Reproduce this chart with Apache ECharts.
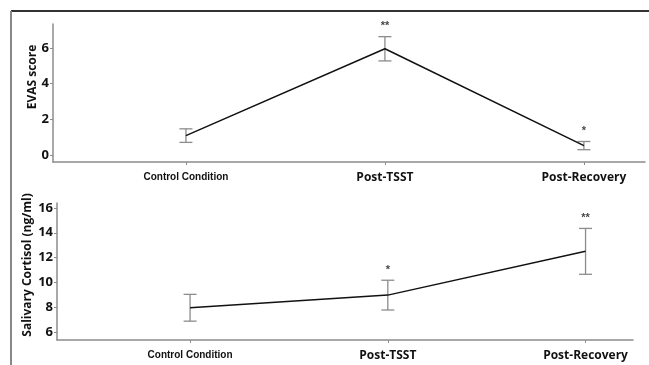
<!DOCTYPE html>
<html>
<head>
<meta charset="utf-8">
<script src="https://cdn.jsdelivr.net/npm/echarts@6/dist/echarts.min.js"></script>
<style>
html, body { margin: 0; padding: 0; background: #fff; }
#chart { width: 649px; height: 365px; }
</style>
</head>
<body>
<div id="chart"></div>
<script>
const conditions = ['Control Condition', 'Post-TSST', 'Post-Recovery']
const evasMean = [1.08, 5.95, 0.52]
const evasErr = [0.38, 0.68, 0.23]
const evasSig = ['', '**', '*']
const cortisolMean = [7.95, 8.97, 12.5]
const cortisolErr = [1.08, 1.2, 1.85]
const cortisolSig = ['', '*', '**']
const evasTicks = [0, 2, 4, 6]
const cortisolTicks = [6, 8, 10, 12, 14, 16]
const catTicks = [0, 1, 2]

const axisGrey = '#8c8c8c'
const font = '"Liberation Sans", Arial, sans-serif'
const fontB = '"Open Sans", "Liberation Sans", sans-serif'

function xAxis(idx, min, max) {
  return {
    type: 'value',
    gridIndex: idx,
    min,
    max,
    axisLine: { show: true, onZero: false, lineStyle: { color: axisGrey, width: 1.5 } },
    axisTick: { show: true, length: 3, customValues: catTicks, lineStyle: { color: axisGrey } },
    splitLine: { show: false },
    axisLabel: {
      customValues: catTicks,
      margin: 10,
      formatter: (v) => (v === 0 ? '{a|' : '{b|') + conditions[v] + '}',
      rich: {
        a: { fontFamily: font, fontWeight: 'bold', fontSize: 10, color: '#111' },
        b: { fontFamily: fontB, fontWeight: 'bold', fontSize: 12, color: '#111' }
      }
    }
  }
}

function yAxis(idx, min, max, ticks) {
  return {
    type: 'value',
    gridIndex: idx,
    min,
    max,
    axisLine: { show: true, onZero: false, lineStyle: { color: axisGrey, width: 1.5 } },
    axisTick: { show: true, length: 3, customValues: ticks, lineStyle: { color: axisGrey } },
    splitLine: { show: false },
    axisLabel: {
      customValues: ticks,
      margin: 4,
      fontFamily: fontB,
      fontWeight: 'bold',
      fontSize: 13,
      color: '#111'
    }
  }
}

function errorSeries(idx, means, errs) {
  return {
    type: 'custom',
    xAxisIndex: idx,
    yAxisIndex: idx,
    z: 1,
    encode: { x: 0, y: [1, 2] },
    data: means.map((v, i) => [i, v - errs[i], v + errs[i]]),
    renderItem: (params, api) => {
      const x = api.value(0)
      const lo = api.coord([x, api.value(1)])
      const hi = api.coord([x, api.value(2)])
      const w = 6.5
      const style = { stroke: axisGrey, lineWidth: 1.3 }
      return {
        type: 'group',
        children: [
          { type: 'line', shape: { x1: lo[0], y1: lo[1], x2: hi[0], y2: hi[1] }, style },
          { type: 'line', shape: { x1: hi[0] - w, y1: hi[1], x2: hi[0] + w, y2: hi[1] }, style },
          { type: 'line', shape: { x1: lo[0] - w, y1: lo[1], x2: lo[0] + w, y2: lo[1] }, style }
        ]
      }
    }
  }
}

function lineSeries(idx, means) {
  return {
    type: 'line',
    xAxisIndex: idx,
    yAxisIndex: idx,
    z: 3,
    symbol: 'none',
    lineStyle: { color: '#111', width: 1.5 },
    data: means.map((v, i) => [i, v])
  }
}

function sigSeries(idx, means, errs, sig) {
  return {
    type: 'scatter',
    xAxisIndex: idx,
    yAxisIndex: idx,
    symbolSize: 0,
    silent: true,
    data: means.map((v, i) => [i, v + errs[i], sig[i]]),
    label: {
      show: true,
      position: 'top',
      distance: 5,
      formatter: (p) => p.value[2],
      fontFamily: font,
      fontWeight: 'bold',
      fontSize: 11,
      color: '#111'
    }
  }
}

const chart = echarts.init(document.getElementById('chart'))
chart.setOption({
  animation: false,
  backgroundColor: '#fff',
  grid: [
    { left: 53, right: 4, top: 24, height: 138 },
    { left: 57, right: 16, top: 203, height: 137 }
  ],
  xAxis: [xAxis(0, -0.668, 2.307), xAxis(1, -0.673, 2.24)],
  yAxis: [yAxis(0, -0.4, 7.34, evasTicks), yAxis(1, 5.35, 16.4, cortisolTicks)],
  graphic: [
    { type: 'line', shape: { x1: 11, y1: 11, x2: 649, y2: 11 }, style: { stroke: '#333', lineWidth: 2 } },
    { type: 'line', shape: { x1: 11, y1: 11, x2: 11, y2: 365 }, style: { stroke: '#888', lineWidth: 2 } },
    {
      type: 'text', x: 33, y: 77, rotation: Math.PI / 2,
      style: { text: 'EVAS score', fontFamily: fontB, fontWeight: 'bold', fontSize: 12, fill: '#111', align: 'center', verticalAlign: 'middle' }
    },
    {
      type: 'text', x: 28, y: 265, rotation: Math.PI / 2,
      style: { text: 'Salivary Cortisol (ng/ml)', fontFamily: fontB, fontWeight: 'bold', fontSize: 12, fill: '#111', align: 'center', verticalAlign: 'middle' }
    }
  ],
  series: [
    errorSeries(0, evasMean, evasErr),
    lineSeries(0, evasMean),
    sigSeries(0, evasMean, evasErr, evasSig),
    errorSeries(1, cortisolMean, cortisolErr),
    lineSeries(1, cortisolMean),
    sigSeries(1, cortisolMean, cortisolErr, cortisolSig)
  ]
})
</script>
</body>
</html>
